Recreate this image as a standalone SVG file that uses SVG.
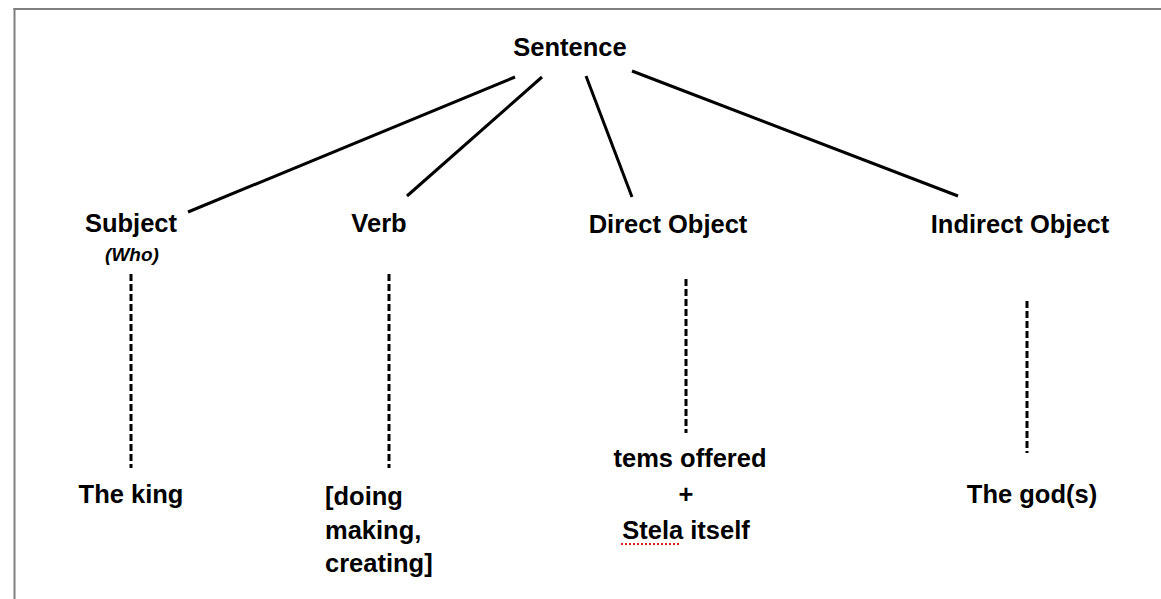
<svg xmlns="http://www.w3.org/2000/svg" width="1161" height="599" viewBox="0 0 1161 599">
<style>
.t{font-family:"Liberation Sans",Arial,sans-serif;font-weight:bold;font-size:25.5px;fill:#000;text-anchor:middle}
.l{text-anchor:start}
.i{font-style:italic;font-size:19px}
.s{stroke:#000;stroke-width:3;fill:none}
.d{stroke:#000;stroke-width:3;stroke-dasharray:7 3;fill:none}
.b{stroke:#7f7f7f;stroke-width:2;fill:none}
</style>
<rect width="1161" height="599" fill="#fff"/>
<g id="frame">
<line class="b" x1="13.5" y1="9" x2="1161" y2="9"/>
<line class="b" x1="14.5" y1="8" x2="14.5" y2="599"/>
</g>
<g id="connectors">
<line class="s" x1="515" y1="77" x2="188" y2="212"/>
<line class="s" x1="542" y1="77" x2="407" y2="196"/>
<line class="s" x1="586" y1="76" x2="632" y2="197"/>
<line class="s" x1="632" y1="71" x2="958" y2="196"/>
<line class="d" x1="131" y1="274" x2="131" y2="468"/>
<line class="d" x1="389" y1="274" x2="389" y2="468"/>
<line class="d" x1="686" y1="279" x2="686" y2="433"/>
<line class="d" x1="1027" y1="301" x2="1027" y2="453"/>
</g>
<g id="sentence"><text class="t" x="570" y="56">Sentence</text></g>
<g id="subject"><text class="t" x="131" y="232">Subject</text><text class="t i" x="132" y="261">(Who)</text></g>
<g id="verb"><text class="t" x="379" y="232">Verb</text></g>
<g id="direct-object"><text class="t" x="668" y="233">Direct Object</text></g>
<g id="indirect-object"><text class="t" x="1020" y="233">Indirect Object</text></g>
<g id="the-king"><text class="t" x="131" y="503">The king</text></g>
<g id="doing"><text class="t l" x="325" y="505">[doing</text><text class="t l" x="325" y="539">making,</text><text class="t l" x="325" y="572">creating]</text></g>
<g id="items"><text class="t" x="690" y="467">tems offered</text><text class="t" x="686" y="503">+</text><text class="t" x="686" y="539">Stela itself</text>
<line x1="621" y1="544" x2="679" y2="544" stroke="#e02020" stroke-width="2" stroke-dasharray="2 2"/></g>
<g id="gods"><text class="t" x="1032" y="503">The god(s)</text></g>
</svg>
